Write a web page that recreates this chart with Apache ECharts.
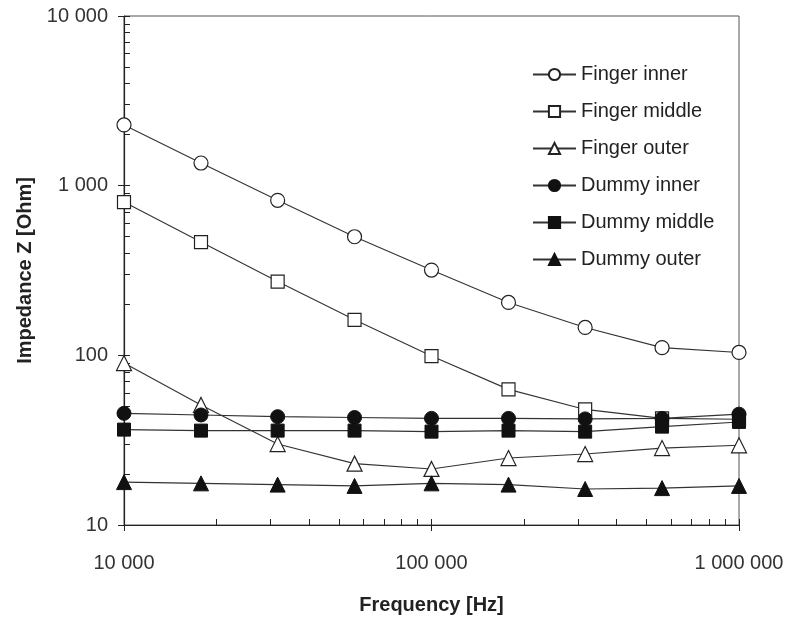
<!DOCTYPE html>
<html>
<head>
<meta charset="utf-8">
<script src="https://cdn.jsdelivr.net/npm/echarts@6/dist/echarts.min.js"></script>
<style>
  html, body { margin: 0; padding: 0; background: #fff; }
  #chart { width: 792px; height: 621px; }
</style>
</head>
<body>
<div id="chart"></div>
<script>
// frequencies, quarter-decade steps
const freqs = [10000, 17800, 31600, 56200, 100000, 178000, 316000, 562000, 1000000]

const fingerInner = [2280, 1360, 820, 500, 318, 205, 146, 111, 104]
const fingerMiddle = [800, 465, 272, 162, 99, 63, 48, 42.5, 42]
const fingerOuter = [90, 51, 30, 23, 21.4, 24.8, 26.2, 28.4, 29.5]
const dummyInner = [45.5, 44.5, 43.5, 43, 42.5, 42.5, 42.2, 42.5, 45]
const dummyMiddle = [36.5, 36, 36, 36, 35.5, 36, 35.5, 38, 40.5]
const dummyOuter = [17.9, 17.6, 17.3, 17, 17.6, 17.3, 16.3, 16.5, 17]

const xMinorTicks = [10000, 20000, 30000, 40000, 50000, 60000, 70000, 80000, 90000,
  100000, 200000, 300000, 400000, 500000, 600000, 700000, 800000, 900000, 1000000]
const yMinorTicks = [10, 20, 30, 40, 50, 60, 70, 80, 90, 100, 200, 300, 400, 500, 600, 700, 800, 900,
  1000, 2000, 3000, 4000, 5000, 6000, 7000, 8000, 9000, 10000]

const fmt = v => String(Math.round(v)).replace(/\B(?=(\d{3})+(?!\d))/g, ' ')

const toPairs = ys => ys.map((y, i) => [freqs[i], y])

const lineCol = '#333'
const hollow = { color: '#fff', borderColor: '#222', borderWidth: 1.2 }
const filled = { color: '#111', borderColor: '#111', borderWidth: 1 }

const seriesDefs = [
  { name: 'Finger inner', data: fingerInner, symbol: 'circle', size: 14, style: hollow },
  { name: 'Finger middle', data: fingerMiddle, symbol: 'rect', size: 13, style: hollow },
  { name: 'Finger outer', data: fingerOuter, symbol: 'triangle', size: 15, style: hollow },
  { name: 'Dummy inner', data: dummyInner, symbol: 'circle', size: 14, style: filled },
  { name: 'Dummy middle', data: dummyMiddle, symbol: 'rect', size: 13, style: filled },
  { name: 'Dummy outer', data: dummyOuter, symbol: 'triangle', size: 15, style: filled },
]

const myChart = echarts.init(document.getElementById('chart'))
myChart.setOption({
  animation: false,
  textStyle: { fontFamily: 'Liberation Sans, Arial, sans-serif' },
  grid: {
    left: 124,
    right: 53,
    top: 16,
    bottom: 96,
    show: true,
    borderColor: '#555',
    borderWidth: 1
  },
  legend: {
    orient: 'vertical',
    left: 527,
    top: 58,
    itemWidth: 43,
    itemHeight: 14,
    itemGap: 14,
    textStyle: { fontSize: 20, color: '#222', lineHeight: 23 },
    data: seriesDefs.map(s => s.name)
  },
  xAxis: [{
    type: 'log',
    logBase: 10,
    min: 10000,
    max: 1000000,
    name: 'Frequency [Hz]',
    nameLocation: 'middle',
    nameGap: 70,
    nameTextStyle: { fontSize: 20, fontWeight: 'bold', color: '#222' },
    axisLine: { lineStyle: { color: '#222', width: 1.2 } },
    axisTick: { inside: false, length: 6, lineStyle: { color: '#222' } },
    axisLabel: { fontSize: 20, color: '#333', margin: 28, formatter: fmt },
    splitLine: { show: false }
  }, {
    type: 'log',
    logBase: 10,
    min: 10000,
    max: 1000000,
    position: 'bottom',
    offset: 0,
    axisLine: { show: false },
    axisTick: { show: true, inside: true, length: 6, customValues: xMinorTicks, lineStyle: { color: '#222' } },
    axisLabel: { show: false },
    splitLine: { show: false }
  }],
  yAxis: [{
    type: 'log',
    logBase: 10,
    min: 10,
    max: 10000,
    name: 'Impedance Z [Ohm]',
    nameLocation: 'middle',
    nameGap: 88,
    nameTextStyle: { fontSize: 20, fontWeight: 'bold', color: '#222' },
    axisLine: { show: true, lineStyle: { color: '#222', width: 1.2 } },
    axisTick: { show: true, inside: false, length: 6, lineStyle: { color: '#222' } },
    axisLabel: { fontSize: 20, color: '#333', margin: 16, formatter: fmt },
    splitLine: { show: false }
  }, {
    type: 'log',
    logBase: 10,
    min: 10,
    max: 10000,
    position: 'left',
    offset: 0,
    axisLine: { show: false },
    axisTick: { show: true, inside: true, length: 6, customValues: yMinorTicks, lineStyle: { color: '#222' } },
    axisLabel: { show: false },
    splitLine: { show: false }
  }],
  series: seriesDefs.map(s => ({
    name: s.name,
    type: 'line',
    xAxisIndex: 0,
    yAxisIndex: 0,
    data: toPairs(s.data),
    symbol: s.symbol,
    symbolSize: s.size,
    showSymbol: true,
    lineStyle: { color: lineCol, width: 1.1 },
    itemStyle: s.style,
    emphasis: { disabled: true }
  }))
})
</script>
</body>
</html>
